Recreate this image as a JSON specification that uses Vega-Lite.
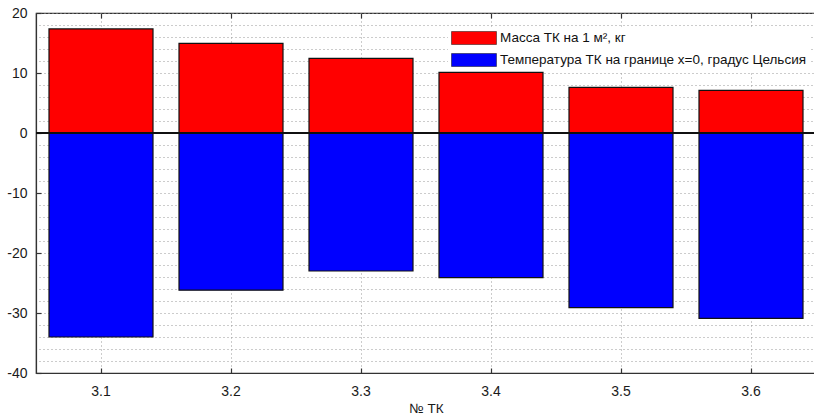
{
  "$schema": "https://vega.github.io/schema/vega-lite/v6.json",
  "autosize": "none",
  "width": 780,
  "height": 360,
  "padding": {"left": 36, "top": 13, "right": 0, "bottom": 43},
  "background": "white",
  "config": {
    "font": "Liberation Sans",
    "view": {"stroke": "#333", "strokeWidth": 1.2},
    "axis": {"labelFont": "Liberation Sans", "titleFont": "Liberation Sans", "labelColor": "#1a1a1a", "titleColor": "#1a1a1a", "domainColor": "#333", "tickColor": "#333", "domainWidth": 1.2, "tickWidth": 1.2}
  },
  "data": {
    "values": [
      {"tk": "3.1", "series": "Масса ТК на 1 м², кг", "value": 17.35},
      {"tk": "3.2", "series": "Масса ТК на 1 м², кг", "value": 14.95},
      {"tk": "3.3", "series": "Масса ТК на 1 м², кг", "value": 12.45},
      {"tk": "3.4", "series": "Масса ТК на 1 м², кг", "value": 10.1},
      {"tk": "3.5", "series": "Масса ТК на 1 м², кг", "value": 7.6},
      {"tk": "3.6", "series": "Масса ТК на 1 м², кг", "value": 7.1},
      {"tk": "3.1", "series": "Температура ТК на границе x=0, градус Цельсия", "value": -34.0},
      {"tk": "3.2", "series": "Температура ТК на границе x=0, градус Цельсия", "value": -26.2},
      {"tk": "3.3", "series": "Температура ТК на границе x=0, градус Цельсия", "value": -23.0},
      {"tk": "3.4", "series": "Температура ТК на границе x=0, градус Цельсия", "value": -24.1},
      {"tk": "3.5", "series": "Температура ТК на границе x=0, градус Цельсия", "value": -29.1},
      {"tk": "3.6", "series": "Температура ТК на границе x=0, градус Цельсия", "value": -30.9}
    ]
  },
  "layer": [
    {
      "mark": {"type": "bar", "stroke": "#111", "strokeWidth": 1.2},
      "encoding": {
        "x": {
          "field": "tk", "type": "nominal",
          "scale": {"paddingInner": 0.2, "paddingOuter": 0.1},
          "axis": {"orient": "bottom", "title": "№ ТК", "labelAngle": 0, "labelFontSize": 14, "titleFontSize": 13.5, "titleFontWeight": "normal", "tickSize": -5, "labelPadding": 16, "titlePadding": 3, "grid": true, "gridDash": [1, 3], "gridColor": "#999", "gridWidth": 1}
        },
        "y": {
          "field": "value", "type": "quantitative",
          "scale": {"domain": [-40, 20], "nice": false},
          "axis": {
            "orient": "left",
            "title": null,
            "values": [-40, -30, -20, -10, 0, 10, 20],
            "labelExpr": "replace(datum.label, '\u2212', '-')",
            "labelFontSize": 14,
            "tickSize": -5,
            "labelPadding": 14,
            "grid": true, "gridDash": [1, 3], "gridColor": "#999", "gridWidth": 1
          }
        },
        "color": {
          "field": "series", "type": "nominal",
          "scale": {"domain": ["Масса ТК на 1 м², кг", "Температура ТК на границе x=0, градус Цельсия"], "range": ["#ff0000", "#0000ff"]},
          "legend": {
            "title": null, "orient": "none", "legendX": 412, "legendY": 15,
            "fillColor": "white", "padding": 3,
            "symbolType": "M-1,-1H5.92V1H-1Z", "symbolSize": 169, "symbolStrokeWidth": 0.5,
            "labelFontSize": 13.5, "labelColor": "#111", "rowPadding": 6, "labelOffset": 35, "labelLimit": 400
          }
        }
      }
    },
    {
      "mark": {"type": "rule", "color": "#111", "strokeWidth": 1.5},
      "encoding": {
        "y": {
          "datum": 0,
          "axis": {
            "orient": "right", "title": null, "labels": false, "ticks": false, "domain": false,
            "values": [-38,-36,-34,-32,-28,-26,-24,-22,-18,-16,-14,-12,-8,-6,-4,-2,2,4,6,8,12,14,16,18],
            "grid": true, "gridDash": [1, 3], "gridColor": "#999", "gridWidth": 1
          }
        }
      }
    },
    {
      "mark": {"type": "bar", "opacity": 0},
      "encoding": {
        "x": {"field": "tk", "type": "nominal", "axis": {"orient": "top", "title": null, "labels": false, "tickSize": -5, "domain": false, "grid": false}}
      }
    }
  ],
  "resolve": {"axis": {"x": "independent", "y": "independent"}}
}
